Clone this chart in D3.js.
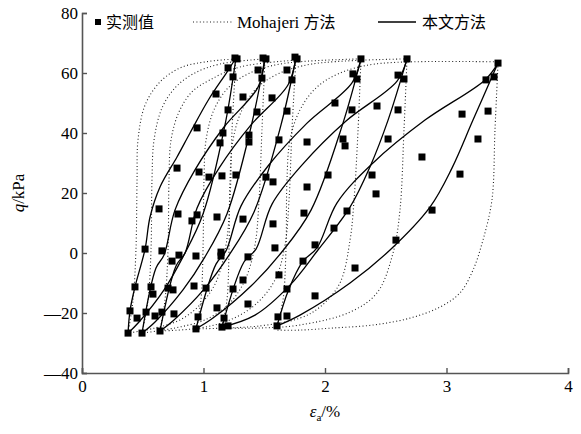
<!DOCTYPE html>
<html>
<head>
<meta charset="utf-8">
<script src="https://cdn.jsdelivr.net/npm/d3@7"></script>
<style>
  body { margin: 0; background: #fff; overflow: hidden; }
  svg { display: block; }
  svg text { font-family: "Liberation Serif", "DejaVu Serif", serif; fill: #000; }
  svg text.cjk { font-family: "Noto Sans CJK SC", sans-serif; }
</style>
</head>
<body>
<div id="chart"></div>
<script>
// axis ticks
const xTicks = [0, 1, 2, 3, 4];
const yTicks = [-40, -20, 0, 20, 40, 60, 80];

// measured points [strain %, q kPa]
const measured = [
  [1.259, 65], [1.276, 64.7], [1.202, 61.7], [1.243, 58.7], [1.103, 53], [1.202, 47.7], [0.947, 41.7],
  [1.490, 65], [1.514, 64.7], [1.449, 61], [1.481, 58.3], [1.325, 52], [1.440, 47],
  [1.753, 65.3], [1.770, 64.7], [1.687, 61], [1.728, 57.7], [1.564, 51.7], [1.687, 47.3],
  [2.296, 64.7], [2.230, 59.7], [2.263, 58], [2.082, 50], [2.222, 47.7],
  [2.675, 64.7], [2.601, 59.3], [2.650, 58], [2.428, 49], [2.601, 47.7],
  [3.424, 63.3], [3.391, 58.7], [3.325, 57.7], [3.128, 46.3], [3.342, 47.3],
  [1.160, 40], [1.136, 36.7], [1.374, 39.3], [1.374, 37], [1.621, 37.7], [1.852, 37],
  [2.148, 38], [2.165, 35.7], [2.519, 38], [2.798, 32], [3.259, 38],
  [0.782, 28.3], [0.963, 27], [1.045, 25.3], [1.152, 25.7], [1.267, 26], [1.514, 25.3],
  [1.572, 23.7], [1.852, 22], [2.025, 26], [2.387, 26], [2.420, 19.7], [3.111, 26.3],
  [0.634, 14.7], [0.790, 13], [0.947, 12.7], [0.905, 10.7], [1.111, 12], [1.325, 11.3],
  [1.572, 9.7], [1.827, 13.3], [2.181, 14], [2.074, 8.3], [2.881, 14.3],
  [0.519, 1.3], [0.658, 0.7], [0.798, -0.7], [0.938, -1], [1.144, 0.3], [1.144, -1],
  [1.366, -1.3], [1.588, 1.7], [1.918, 2.7], [2.584, 4.3], [0.741, -2.7],
  [0.436, -11.3], [0.568, -11.3], [0.708, -11.7], [0.749, -12.3], [0.584, -13.7], [0.922, -11],
  [1.021, -11.7], [1.243, -12], [1.325, -9], [1.621, -7.3], [1.687, -12], [1.819, -2.7],
  [2.247, -5], [1.918, -14.3],
  [0.395, -19.3], [0.453, -21.7], [0.527, -19.7], [0.601, -21], [0.658, -19.7], [0.757, -20.3],
  [0.955, -21.3], [1.111, -18.3], [1.169, -21.7], [1.366, -17], [1.613, -21.3], [1.687, -21],
  [0.379, -26.7], [0.494, -26.7], [0.642, -26], [0.938, -25.3], [1.152, -24.7], [1.202, -24.3],
  [1.605, -24.3]
];

// this paper's model: the two branches of each cycle
const modelUpper = [
  [[0.379, -26.7], [0.395, -19.3], [0.436, -11.3], [0.519, 1.3], [0.56, 12], [0.642, 22], [0.782, 32], [0.889, 40], [1.04, 51], [1.193, 60.3], [1.267, 65]],
  [[0.494, -26.7], [0.609, -5], [0.675, -0.7], [0.765, 14.3], [0.930, 27.7], [1.169, 42], [1.449, 55.3], [1.506, 65]],
  [[0.642, -26], [0.774, -4.3], [0.848, 0], [0.947, 15], [1.128, 28.3], [1.391, 42.7], [1.695, 56], [1.761, 65]],
  [[0.938, -25.3], [1.103, -3.7], [1.185, 0.7], [1.309, 15.7], [1.531, 29], [1.852, 43.3], [2.222, 56.7], [2.296, 64.7]],
  [[1.152, -24.7], [1.333, -3], [1.432, 1.3], [1.564, 16.3], [1.819, 29.7], [2.173, 44], [2.593, 57.3], [2.675, 64.7]],
  [[1.605, -24.3], [1.70, -12.3], [1.819, -2.7], [1.934, 1.7], [2.099, 16.7], [2.395, 30], [2.823, 44.3], [3.317, 57.7], [3.424, 63.3]]
];
const modelLower = [
  [[0.379, -26.7], [0.469, -23], [0.675, -12.3], [0.831, -1.3], [0.996, 13], [1.177, 42.7], [1.267, 65]],
  [[0.494, -26.7], [0.601, -23], [0.831, -12.3], [1.012, -1.3], [1.193, 13], [1.391, 42], [1.506, 65]],
  [[0.642, -26], [0.757, -22.3], [1.012, -11.7], [1.210, -0.7], [1.416, 13.7], [1.638, 42.7], [1.761, 65]],
  [[0.938, -25.3], [1.078, -21.7], [1.391, -11], [1.638, 0], [1.885, 14.3], [2.148, 43.3], [2.296, 64.7]],
  [[1.152, -24.7], [1.424, -20.7], [1.712, -10.7], [1.942, 1], [2.206, 15.3], [2.370, 28.7], [2.519, 44.3], [2.675, 64.7]],
  [[1.605, -24.3], [1.794, -20.7], [2.206, -10], [2.535, 1], [2.864, 15.3], [3.045, 28.3], [3.218, 44.3], [3.424, 63.3]]
];

// Mohajeri method
const mohajeriLoad = [
  [[0.379, -26.7], [0.420, -15.7], [0.444, 1], [0.453, 24.3], [0.461, 37.7], [0.519, 49.3], [0.642, 57], [0.807, 61.7], [1.012, 63.7], [1.267, 64.7]],
  [[0.494, -26.7], [0.543, -15.7], [0.568, 1], [0.576, 24.3], [0.593, 37.7], [0.658, 48.3], [0.765, 55], [0.914, 59.7], [1.136, 63], [1.506, 64.7]],
  [[0.642, -26], [0.683, -15.7], [0.708, 1], [0.716, 24.3], [0.733, 37.7], [0.798, 47], [0.905, 53.7], [1.053, 57.7], [1.300, 62], [1.761, 64.3]],
  [[0.938, -25.3], [0.979, -15.7], [0.996, 1], [1.004, 24.3], [1.021, 37.7], [1.086, 47.7], [1.202, 55], [1.366, 59.7], [1.630, 63], [2.296, 64.7]],
  [[1.152, -24.7], [1.193, -15.7], [1.210, 1], [1.218, 24.3], [1.243, 37.7], [1.317, 47.7], [1.440, 55], [1.613, 59.7], [1.893, 63], [2.675, 64.7]],
  [[1.605, -24.3], [1.654, -15.7], [1.679, 1], [1.687, 24.3], [1.712, 37.7], [1.794, 47.7], [1.926, 55], [2.107, 59.7], [2.412, 63], [3.424, 63.7]]
];
const mohajeriUnload = [
  [[1.267, 65], [1.235, 41], [1.218, 17.7], [1.185, 2.7], [1.103, -9.7], [0.971, -17.3], [0.807, -22.3], [0.601, -25], [0.379, -26.7]],
  [[1.506, 65], [1.481, 41], [1.457, 17.7], [1.424, 2.7], [1.342, -9], [1.202, -17.3], [1.012, -22.3], [0.765, -25], [0.494, -26.7]],
  [[1.761, 65], [1.728, 41], [1.704, 17.7], [1.671, 2.7], [1.588, -9], [1.424, -17.3], [1.218, -22.3], [0.971, -25], [0.642, -26]],
  [[2.296, 64.7], [2.272, 41], [2.239, 17.7], [2.206, 4.3], [2.123, -10], [1.959, -18], [1.794, -21.7], [1.465, -24.3], [0.938, -25.3]],
  [[2.675, 64.7], [2.650, 41], [2.617, 14.3], [2.560, 0], [2.428, -13.3], [2.206, -19.7], [1.794, -24], [1.465, -25], [1.152, -25]],
  [[3.424, 63.3], [3.399, 41], [3.374, 17.7], [3.300, 4.3], [3.218, -5.7], [3.111, -13.3], [2.947, -18], [2.700, -21.7], [2.395, -24], [2.066, -25], [1.794, -25.7], [1.605, -25.7]]
];

const width = 581;
const height = 434;
const margin = { top: 13, right: 13, bottom: 61, left: 82 };
const innerWidth = width - margin.left - margin.right;
const innerHeight = height - margin.top - margin.bottom;

const svg = d3.select('#chart')
  .append('svg')
  .attr('width', width)
  .attr('height', height);

const chart = svg.append('g')
  .attr('transform', `translate(${margin.left},${margin.top})`);

const xScale = d3.scaleLinear().domain([0, 4]).range([0, innerWidth]);
const yScale = d3.scaleLinear().domain([-40, 80]).range([innerHeight, 0]);

const line = d3.line()
  .curve(d3.curveCatmullRom.alpha(0.5))
  .x((d) => xScale(d[0]))
  .y((d) => yScale(d[1]));

// Mohajeri dotted curves
chart.append('g')
  .selectAll('path')
  .data(mohajeriLoad.concat(mohajeriUnload))
  .join('path')
  .attr('fill', 'none')
  .attr('stroke', '#222')
  .attr('stroke-width', 1.1)
  .attr('stroke-dasharray', '1 2.4')
  .attr('d', line);

// model curves
chart.append('g')
  .selectAll('path')
  .data(modelUpper.concat(modelLower))
  .join('path')
  .attr('fill', 'none')
  .attr('stroke', '#000')
  .attr('stroke-width', 1.3)
  .attr('d', line);

// measured squares
const sq = 7;
chart.append('g')
  .selectAll('rect')
  .data(measured)
  .join('rect')
  .attr('x', (d) => xScale(d[0]) - sq / 2)
  .attr('y', (d) => yScale(d[1]) - sq / 2)
  .attr('width', sq)
  .attr('height', sq)
  .attr('fill', '#000');

// axes
const fmt = (v) => (v < 0 ? '\u2014' + Math.abs(v) : String(v));

const xAxis = chart.append('g')
  .attr('transform', `translate(0,${innerHeight})`)
  .call(d3.axisBottom(xScale).tickValues(xTicks).tickSize(-5).tickPadding(4).tickFormat(fmt));

const yAxis = chart.append('g')
  .call(d3.axisLeft(yScale).tickValues(yTicks).tickSize(-5).tickPadding(4).tickFormat(fmt));

[xAxis, yAxis].forEach((ax) => {
  ax.attr('font-family', null).attr('font-size', null);
  ax.select('.domain').attr('stroke', '#555').attr('stroke-width', 1.6);
  ax.selectAll('.tick line').attr('stroke', '#555').attr('stroke-width', 1.4);
  ax.selectAll('.tick text')
    .style('font-size', '17px')
    .attr('fill', '#000');
});
xAxis.selectAll('.tick text').attr('dy', '0.9em');
yAxis.selectAll('.tick text').attr('dy', '0.35em');

// axis titles
const yTitle = svg.append('text')
  .attr('transform', `translate(24,${margin.top + yScale(20)}) rotate(-90)`)
  .attr('text-anchor', 'middle')
  .style('font-size', '17px');
yTitle.append('tspan').style('font-style', 'italic').text('q');
yTitle.append('tspan').text('/kPa');

const xTitle = svg.append('text')
  .attr('x', margin.left + xScale(2))
  .attr('y', 417)
  .attr('text-anchor', 'middle')
  .style('font-size', '17px');
xTitle.append('tspan').style('font-style', 'italic').text('\u03b5');
xTitle.append('tspan').attr('dy', 4).style('font-size', '11px').text('a');
xTitle.append('tspan').attr('dy', -4).text('/%');

// legend
const legend = svg.append('g').attr('transform', 'translate(0,22)');
legend.append('rect').attr('x', 95).attr('y', -3).attr('width', 6).attr('height', 6).attr('fill', '#000');
legend.append('text').attr('class', 'cjk').attr('x', 106).attr('y', 6)
  .style('font-size', '16px').text('实测值');
legend.append('line').attr('x1', 193).attr('x2', 232).attr('y1', 0).attr('y2', 0)
  .attr('stroke', '#222').attr('stroke-width', 1.1).attr('stroke-dasharray', '1 2.4');
const mt = legend.append('text').attr('x', 237).attr('y', 6).style('font-size', '17px');
mt.append('tspan').text('Mohajeri ');
mt.append('tspan').style('font-family', '"Noto Sans CJK SC", sans-serif').style('font-size', '16px').text('方法');
legend.append('line').attr('x1', 378).attr('x2', 416).attr('y1', 0).attr('y2', 0)
  .attr('stroke', '#000').attr('stroke-width', 1.3);
legend.append('text').attr('class', 'cjk').attr('x', 422).attr('y', 6)
  .style('font-size', '16px').text('本文方法');
</script>
</body>
</html>
